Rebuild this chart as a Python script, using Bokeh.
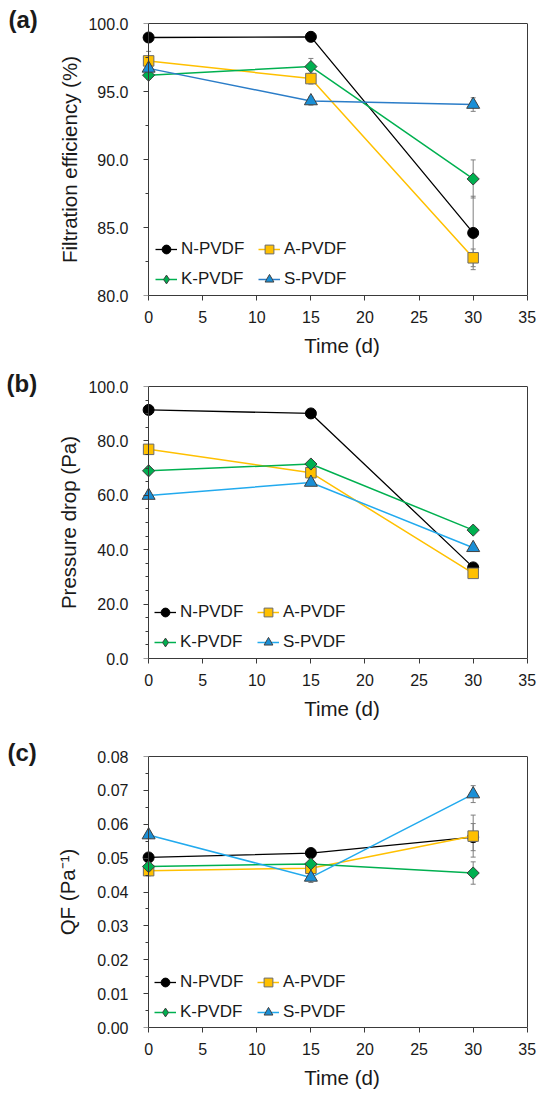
from bokeh.plotting import figure
from bokeh.models import (Range1d, FixedTicker, NumeralTickFormatter, Legend,
                          LegendItem, Whisker, TeeHead, ColumnDataSource, LinearAxis)
from bokeh.core.properties import value
from bokeh.layouts import column, row
from bokeh.embed import file_html
from bokeh.resources import INLINE

# ---------------- data ----------------
days = [0, 15, 30]
series = ["N-PVDF", "A-PVDF", "K-PVDF", "S-PVDF"]
x_ticks = [0, 5, 10, 15, 20, 25, 30, 35]
panel_tags = ["(a)", "(b)", "(c)"]

# (a) Filtration efficiency (%)
fe_N = [98.97, 99.02, 84.60]
fe_A = [97.25, 95.95, 82.77]
fe_K = [96.20, 96.83, 88.57]
fe_S = [96.70, 94.30, 94.04]
fe_err_N = [0.20, 0.15, 2.70]
fe_err_A = [0.70, 0.40, 0.65]
fe_err_K = [0.30, 0.60, 1.40]
fe_err_S = [0.30, 0.30, 0.50]
fe_ticks = [80.0, 85.0, 90.0, 95.0, 100.0]
fe_minor = [82.5, 87.5, 92.5, 97.5]

# (b) Pressure drop (Pa)
pd_N = [91.4, 90.1, 33.5]
pd_A = [76.9, 68.3, 31.3]
pd_K = [69.0, 71.5, 47.2]
pd_S = [59.9, 64.7, 40.7]
pd_err_N = [0.8, 0.8, 1.0]
pd_err_A = [0.8, 1.0, 1.0]
pd_err_K = [0.8, 0.8, 0.8]
pd_err_S = [0.8, 0.8, 0.8]
pd_ticks = [0.0, 20.0, 40.0, 60.0, 80.0, 100.0]
pd_minor = [5, 10, 15, 25, 30, 35, 45, 50, 55, 65, 70, 75, 85, 90, 95]

# (c) QF (Pa^-1)
qf_N = [0.0502, 0.0515, 0.0562]
qf_A = [0.0463, 0.0470, 0.0565]
qf_K = [0.0475, 0.0483, 0.0456]
qf_S = [0.0568, 0.0443, 0.0689]
qf_err_N = [0.0008, 0.0008, 0.0040]
qf_err_A = [0.0015, 0.0010, 0.0062]
qf_err_K = [0.0008, 0.0008, 0.0033]
qf_err_S = [0.0010, 0.0015, 0.0025]
qf_ticks = [0.00, 0.01, 0.02, 0.03, 0.04, 0.05, 0.06, 0.07, 0.08]
qf_minor = [0.005, 0.015, 0.025, 0.035, 0.045, 0.055, 0.065, 0.075]

# ---------------- styling ----------------
FONT = "Liberation Sans"
AXC = "#3a3a3a"
TXT = "#1a1a1a"
styles = {
    "N-PVDF": dict(marker="circle", size=11, fill="#000000", edge="#000000", angle=0.0, lw=1.3),
    "A-PVDF": dict(marker="square", size=10.5, fill="#FFC000", edge="#6b6b6b", angle=0.0, lw=1.5),
    "K-PVDF": dict(marker="square", size=8.6, fill="#00B050", edge="#3d3d3d", angle=0.7853981634, lw=1.5),
    "S-PVDF": dict(marker="triangle", size=13, fill="#1a8fd6", edge="#404040", angle=0.0, lw=1.5),
}
line_colors_a = {"N-PVDF": "#000000", "A-PVDF": "#FFC000", "K-PVDF": "#00B050", "S-PVDF": "#2b7dc8"}
line_colors_bc = {"N-PVDF": "#000000", "A-PVDF": "#FFC000", "K-PVDF": "#00B050", "S-PVDF": "#22aaee"}

XPAD_L = 0.75
XPAD_R = 1.5
FW = 403
TAGW = 40
RIGHT_EDGE = 548
H_A, H_B, H_C = 369, 360, 364


def style_text(ax):
    ax.major_label_text_font = FONT
    ax.major_label_text_font_size = "16px"
    ax.major_label_text_color = TXT
    ax.axis_label_text_font = FONT
    ax.axis_label_text_font_size = "20.5px"
    ax.axis_label_text_font_style = "normal"
    ax.axis_label_text_color = TXT


def make_panel(values, errors, y_range, y_ticks, minor, fmt, ylabel,
               left, top, fh, height, label_standoff, line_colors, leg_x, leg_y):
    mainw = RIGHT_EDGE - TAGW
    p = figure(width=mainw, height=height, output_backend="svg", toolbar_location=None,
               x_range=Range1d(-XPAD_L, 35 + XPAD_R), y_range=Range1d(*y_range),
               min_border_left=left, min_border_right=mainw - left - FW,
               min_border_top=top, min_border_bottom=height - top - fh,
               frame_width=FW, frame_height=fh)
    p.grid.visible = False
    p.background_fill_color = "white"
    p.border_fill_color = "white"
    p.outline_line_color = None

    # bottom axis (line only from 0 to 35)
    xax = p.below[0]
    style_text(xax)
    xax.ticker = FixedTicker(ticks=x_ticks)
    xax.bounds = (0, 35)
    xax.axis_line_color = AXC
    xax.major_tick_line_color = AXC
    xax.major_tick_in = 0
    xax.major_tick_out = 5
    xax.minor_tick_out = 0
    xax.minor_tick_in = 0
    xax.minor_tick_line_color = None
    xax.major_label_standoff = 10
    xax.axis_label = "Time (d)"
    xax.axis_label_standoff = 8

    # left axis: labels only (ticks & line drawn by an axis fixed at x = 0)
    yax = p.left[0]
    style_text(yax)
    yax.ticker = FixedTicker(ticks=y_ticks)
    yax.formatter = NumeralTickFormatter(format=fmt)
    yax.axis_line_color = None
    yax.major_tick_line_color = None
    yax.minor_tick_line_color = None
    yax.major_tick_out = 0
    yax.major_tick_in = 0
    yax.minor_tick_out = 0
    yax.minor_tick_in = 0
    yax.major_label_standoff = 12
    yax.axis_label = ylabel
    yax.axis_label_standoff = label_standoff

    tick_ax = LinearAxis(fixed_location=0, ticker=FixedTicker(ticks=y_ticks, minor_ticks=minor),
                         axis_line_color=AXC, major_tick_line_color=AXC, minor_tick_line_color=AXC,
                         major_tick_out=5, major_tick_in=0, minor_tick_out=3, minor_tick_in=0,
                         major_label_text_color=None)
    p.add_layout(tick_ax, "left")

    # frame top / right lines
    top_ax = LinearAxis(ticker=FixedTicker(ticks=[]), bounds=(0, 35), axis_line_color=AXC,
                        major_tick_out=0, minor_tick_out=0, major_label_text_color=None)
    right_ax = LinearAxis(fixed_location=35, ticker=FixedTicker(ticks=[]), axis_line_color=AXC,
                          major_tick_out=0, minor_tick_out=0, major_label_text_color=None)
    p.add_layout(top_ax, "above")
    p.add_layout(right_ax, "right")

    items = {}
    for name in series:
        st = styles[name]
        y = values[name]
        e = errors[name]
        src = ColumnDataSource(dict(x=days, y=y,
                                    lo=[a - b for a, b in zip(y, e)],
                                    hi=[a + b for a, b in zip(y, e)]))
        wh = Whisker(source=src, base="x", upper="hi", lower="lo", dimension="height",
                     line_color="#7f7f7f", line_width=1, level="underlay",
                     upper_head=TeeHead(size=5, line_color="#7f7f7f", line_width=1),
                     lower_head=TeeHead(size=5, line_color="#7f7f7f", line_width=1))
        p.add_layout(wh)
        ln = p.line("x", "y", source=src, line_color=line_colors[name], line_width=st["lw"])
        sc = p.scatter("x", "y", source=src, marker=st["marker"], size=st["size"],
                       angle=st["angle"], fill_color=st["fill"], line_color=st["edge"],
                       line_width=1)
        if name == "K-PVDF":
            # legend-only diamond glyph (hidden in the plot itself)
            sc = p.scatter("x", "y", source=src, marker="diamond", size=12,
                           fill_color=st["fill"], line_color=st["edge"], line_width=1,
                           visible=False)
        items[name] = LegendItem(label=name, renderers=[ln, sc])

    order = ["N-PVDF", "K-PVDF", "A-PVDF", "S-PVDF"]
    leg = Legend(items=[items[n] for n in order], ncols=2, location=(leg_x, leg_y), padding=0,
                 margin=0, spacing=4, glyph_width=22, glyph_height=26, label_height=26,
                 label_width=73, label_standoff=4, border_line_color=None,
                 background_fill_alpha=0, label_text_font=FONT,
                 label_text_font_size="17px", label_text_color=TXT,
                 inactive_fill_alpha=0, click_policy="none")
    p.add_layout(leg, "center")
    return p


pa = make_panel(dict(zip(series, [fe_N, fe_A, fe_K, fe_S])),
                dict(zip(series, [fe_err_N, fe_err_A, fe_err_K, fe_err_S])),
                (80, 100), fe_ticks, fe_minor, "0.0",
                "Filtration efficiency (%)",
                98, 23, 272, H_A, 4, line_colors_a, 15, 3)

pb = make_panel(dict(zip(series, [pd_N, pd_A, pd_K, pd_S])),
                dict(zip(series, [pd_err_N, pd_err_A, pd_err_K, pd_err_S])),
                (0, 100), pd_ticks, pd_minor, "0.0",
                "Pressure drop (Pa)",
                99, 17, 272, H_B, 5, line_colors_bc, 14, 3)

pc = make_panel(dict(zip(series, [qf_N, qf_A, qf_K, qf_S])),
                dict(zip(series, [qf_err_N, qf_err_A, qf_err_K, qf_err_S])),
                (0, 0.08), qf_ticks, qf_minor, "0.00",
                "QF (Pa\u207b\u00b9)",
                100, 27, 271, H_C, 15, line_colors_bc, 14, 2)

# one tall figure on the left holding the panel tags
HT = H_A + H_B + H_C
t = figure(width=TAGW, height=HT, output_backend="svg", toolbar_location=None,
           title=None, x_axis_location=None, y_axis_location=None, min_border=0,
           x_range=Range1d(0, TAGW), y_range=Range1d(0, HT))
t.grid.visible = False
t.outline_line_color = None
t.background_fill_color = "white"
t.border_fill_color = "white"
t.text(x=[8, 6, 7], y=[1074, 710, 341], text=panel_tags, text_font=value(FONT),
       text_font_size="24px", text_font_style="bold", text_color=TXT,
       text_align="left", text_baseline="middle")

layout = row(t, column(pa, pb, pc, spacing=0), spacing=0)
open("out.html", "w").write(file_html(layout, INLINE))
